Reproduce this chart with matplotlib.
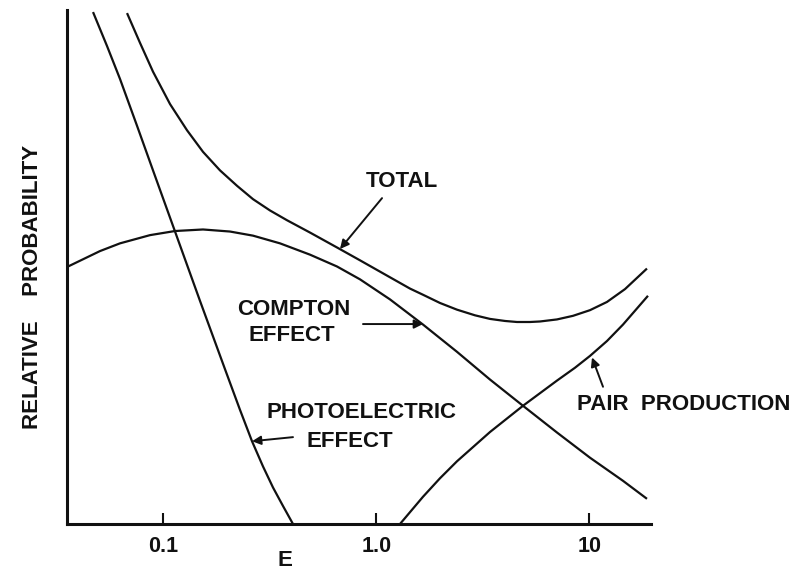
import matplotlib
matplotlib.use("Agg")
import matplotlib.pyplot as plt
from matplotlib.ticker import NullLocator

plt.rcParams['font.family'] = ['Liberation Sans', 'DejaVu Sans']

# ---- data (energy E in MeV, relative probability in arbitrary units) ----
photo_E = [0.04677, 0.05440, 0.06259, 0.07522, 0.08945, 0.11350, 0.14870,
           0.19489, 0.22914, 0.26090, 0.29379, 0.32736, 0.36475, 0.40631]
photo_P = [99.6, 93.0, 86.6, 77.5, 68.8, 56.9, 43.4,
           30.1, 22.2, 16.1, 11.2, 7.1, 3.5, 0.0]

total_E = [0.06754, 0.07774, 0.08945, 0.10752, 0.12922, 0.15361, 0.18455, 0.22182,
           0.26368, 0.31687, 0.38075, 0.48840, 0.65377, 0.83843, 1.1595, 1.4397,
           1.6570, 1.9910, 2.3925, 2.9066, 3.4198, 4.0214, 4.5764, 5.2687, 5.8684,
           7.0528, 8.3857, 10.076, 12.110, 14.715, 18.660]
total_P = [99.4, 93.6, 88.0, 81.7, 76.6, 72.4, 68.8, 65.8,
           63.2, 61.0, 59.1, 56.7, 53.8, 51.3, 48.0, 45.8,
           44.6, 43.0, 41.7, 40.6, 39.9, 39.5, 39.3, 39.3, 39.4,
           39.8, 40.5, 41.6, 43.2, 45.7, 49.7]

compton_E = [0.03531, 0.05044, 0.06259, 0.08662, 0.11350, 0.15361, 0.20562, 0.26368,
             0.35313, 0.48840, 0.65377, 0.83843, 1.1595, 1.6570, 2.3925, 3.4198,
             4.8836, 7.0528, 10.076, 14.400, 18.660]
compton_P = [50.0, 53.1, 54.6, 56.2, 57.0, 57.3, 56.9, 56.1,
             54.6, 52.4, 50.1, 47.6, 43.7, 38.8, 33.5, 28.1,
             23.0, 17.8, 12.9, 8.4, 4.9]

pair_E = [1.2919, 1.6570, 1.9910, 2.3925, 3.4198, 4.8836, 7.0528, 8.5690,
          10.076, 12.110, 14.400, 18.863]
pair_P = [0.0, 5.3, 8.9, 12.2, 17.9, 23.0, 27.9, 30.4,
          32.7, 35.6, 38.8, 44.4]

tick_values = [0.1, 1.0, 10]
tick_labels = ['0.1', '1.0', '10']

# ---- figure ----
W, H = 808, 570
fig = plt.figure(figsize=(W / 100, H / 100), dpi=100)
ax = fig.add_axes([67 / W, 1 - 524 / H, (651 - 67) / W, (524 - 10) / H])

ink = '#111111'
lw = 1.6
for E, P in [(photo_E, photo_P), (total_E, total_P), (compton_E, compton_P), (pair_E, pair_P)]:
    ax.plot(E, P, color=ink, lw=lw, solid_joinstyle='round', solid_capstyle='butt')

ax.set_xscale('log')
ax.set_xlim(0.0353, 19.49)
ax.set_ylim(0, 100)

for s in ['top', 'right']:
    ax.spines[s].set_visible(False)
for s in ['left', 'bottom']:
    ax.spines[s].set_linewidth(2.2)
    ax.spines[s].set_color(ink)

ax.set_yticks([])
ax.set_xticks(tick_values)
ax.set_xticklabels(tick_labels, fontweight='bold')
ax.xaxis.set_minor_locator(NullLocator())
ax.tick_params(axis='x', direction='in', length=8, width=1.5, color=ink,
               labelsize=15.5, pad=9, labelcolor=ink)

fs = 16
fw = 'bold'
fig.text(284.5 / W, (H - 566) / H, 'E', ha='center', va='baseline',
         fontsize=fs, fontweight=fw, color=ink)

fig.text(33 / W, 1 - 286.5 / H, 'RELATIVE    PROBABILITY', rotation=90,
         ha='center', va='center', fontsize=fs, fontweight=fw, color=ink)

# ---- labels and arrows ----
kw = dict(ha='center', va='center', fontsize=fs, fontweight=fw, color=ink)
ax.text(1.313, 66.6, 'TOTAL', **kw)
ax.text(0.4108, 41.8, 'COMPTON', **kw)
ax.text(0.4020, 36.6, 'EFFECT', **kw)
ax.text(0.8476, 21.6, 'PHOTOELECTRIC', **kw)
ax.text(0.7523, 16.0, 'EFFECT', **kw)
ax.text(27.8, 23.2, 'PAIR  PRODUCTION', clip_on=False, **kw)

aprops = dict(arrowstyle='-|>', color=ink, lw=1.4, mutation_scale=13,
              shrinkA=0, shrinkB=0)
ax.annotate('', xy=(0.6755, 53.5), xytext=(1.064, 63.4), arrowprops=aprops)
ax.annotate('', xy=(1.657, 38.9), xytext=(0.866, 38.9), arrowprops=aprops)
ax.annotate('', xy=(0.2609, 16.1), xytext=(0.4063, 16.9), arrowprops=aprops)
ax.annotate('', xy=(10.30, 32.4), xytext=(11.6, 26.7), arrowprops=aprops,
            annotation_clip=False)

fig.savefig('out.png', dpi=100, facecolor='white')
